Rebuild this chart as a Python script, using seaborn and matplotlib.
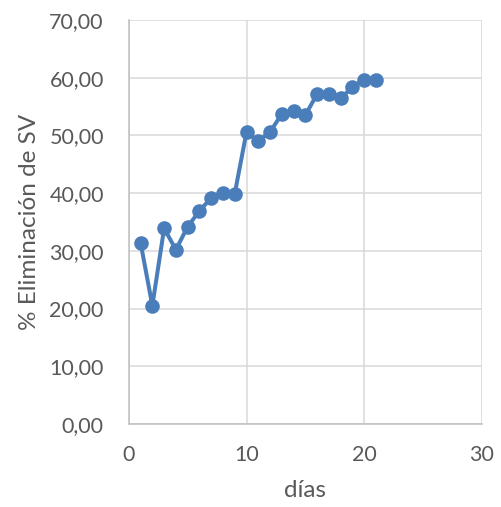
import matplotlib
matplotlib.use("Agg")
import matplotlib.pyplot as plt
import matplotlib.ticker as mticker
import seaborn as sns
import pandas as pd

# Removal of volatile solids over the days of the trial
dias = [1, 2, 3, 4, 5, 6, 7, 8, 9, 10, 11, 12, 13, 14, 15, 16, 17, 18, 19, 20, 21]
eliminacion_sv = [31.4, 20.5, 33.9, 30.2, 34.2, 36.9, 39.2, 40.1, 39.9, 50.6, 49.0,
                  50.6, 53.7, 54.3, 53.5, 57.2, 57.2, 56.4, 58.4, 59.6, 59.6]

x_ticks = [0, 10, 20, 30]
y_ticks = [0, 10, 20, 30, 40, 50, 60, 70]

df = pd.DataFrame({"dias": dias, "sv": eliminacion_sv})

sns.set_theme(style="white")
plt.rcParams["font.family"] = ["Lato", "DejaVu Sans"]

text_color = "#595959"
grid_color = "#d9d9d9"
line_color = "#4a7ebb"

fig = plt.figure(figsize=(5.02, 5.07), dpi=100)
ax = fig.add_axes([0.2566, 0.1637, 0.7034, 0.7969])

sns.lineplot(data=df, x="dias", y="sv", ax=ax, color=line_color, linewidth=2.9,
             marker="o", markersize=10.5, markeredgewidth=0, markerfacecolor=line_color)

ax.set_xlim(0, 30)
ax.set_ylim(0, 70)
ax.set_xticks(x_ticks)
ax.set_yticks(y_ticks)
ax.yaxis.set_major_formatter(mticker.FuncFormatter(lambda v, p: f"{v:.2f}".replace(".", ",")))

ax.grid(True, color=grid_color, linewidth=1.1)
ax.set_axisbelow(True)
for side in ["top", "right"]:
    ax.spines[side].set_visible(False)
for side in ["left", "bottom"]:
    ax.spines[side].set_color("#bfbfbf")
    ax.spines[side].set_linewidth(1.1)

ax.tick_params(axis="both", length=0, labelsize=15.5, colors=text_color)
ax.tick_params(axis="y", pad=18)
ax.tick_params(axis="x", pad=15)

ax.set_xlabel("días", fontsize=17.5, color=text_color, labelpad=11)
ax.set_ylabel("% Eliminación de SV", fontsize=17.5, color=text_color, labelpad=7)

fig.savefig("out.png", dpi=100)
